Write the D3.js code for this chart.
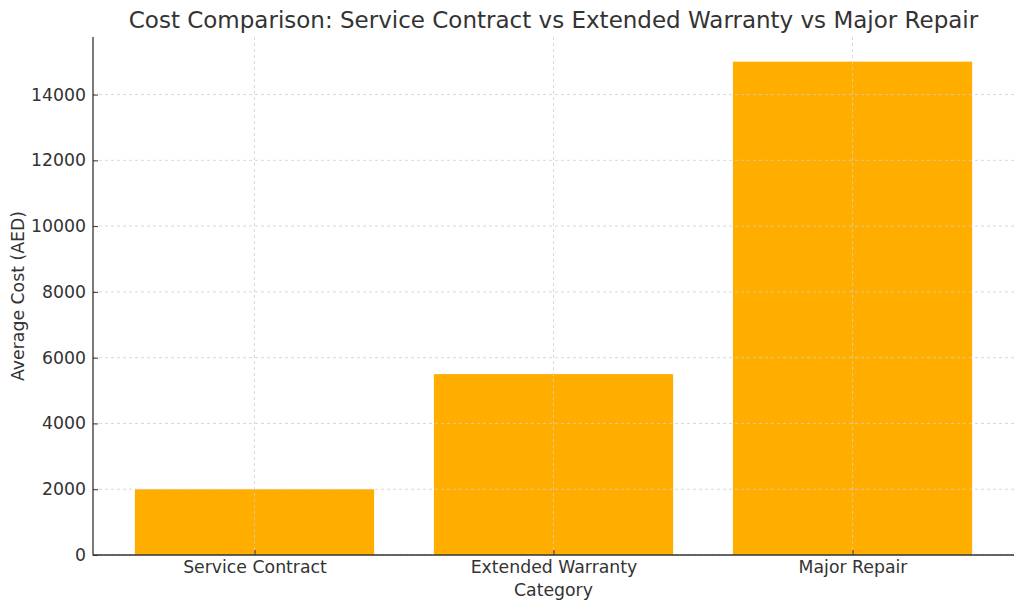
<!DOCTYPE html>
<html><head><meta charset="utf-8">
<script src="https://cdn.jsdelivr.net/npm/d3@7"></script>
<style>body{margin:0;background:#fff}svg{display:block}text{font-family:"DejaVu Sans",sans-serif;fill:#333}</style>
</head><body><svg id="c" width="1024" height="610"></svg>
<script>
const categories = ["Service Contract", "Extended Warranty", "Major Repair"];
const values = [2000, 5500, 15000];
const yTicks = [0, 2000, 4000, 6000, 8000, 10000, 12000, 14000];

const svg = d3.select("#c");
const L = 93, R = 1014, T = 37, B = 555;
const x = d3.scaleLinear().domain([-0.54, categories.length - 1 + 0.54]).range([L, R]);
const y = d3.scaleLinear().domain([0, 15750]).range([B, T]);

svg.selectAll("rect.bar").data(values).enter().append("rect")
  .attr("x", (d, i) => x(i - 0.4)).attr("width", (d, i) => x(i + 0.4) - x(i - 0.4))
  .attr("y", d => y(d)).attr("height", d => B - y(d)).attr("fill", "#ffae00");

const g = svg.append("g");
g.selectAll("line.hg").data(yTicks).enter().append("line")
  .attr("x1", L).attr("x2", R).attr("y1", d => y(d)).attr("y2", d => y(d))
  .attr("stroke", "#cfcfcf").attr("stroke-width", 0.8).attr("stroke-dasharray", "3,3");
g.selectAll("line.vg").data(categories).enter().append("line")
  .attr("x1", (d, i) => x(i)).attr("x2", (d, i) => x(i)).attr("y1", T).attr("y2", B)
  .attr("stroke", "#cfcfcf").attr("stroke-width", 0.8).attr("stroke-dasharray", "3,3");

const fs = "17.3px";
// y axis
const ya = svg.append("g").attr("transform", `translate(${L},0)`)
  .call(d3.axisLeft(y).tickValues(yTicks).tickSize(-5).tickPadding(7).tickFormat(d3.format("d")));
ya.select(".domain").remove();
ya.selectAll(".tick line").attr("stroke", "#333").attr("stroke-width", 1);
ya.selectAll("text").style("font-size", fs).attr("fill", "#333");

// x axis
const xa = svg.append("g").attr("transform", `translate(0,${B})`)
  .call(d3.axisBottom(x).tickValues(d3.range(categories.length)).tickSize(-5).tickPadding(6).tickFormat(i => categories[i]));
xa.select(".domain").remove();
xa.selectAll(".tick line").attr("stroke", "#333").attr("stroke-width", 1);
xa.selectAll("text").style("font-size", fs).attr("fill", "#333");

svg.append("line").attr("x1", L).attr("x2", L).attr("y1", T).attr("y2", B + 0.5).attr("stroke", "#333").attr("stroke-width", 1.3);
svg.append("line").attr("x1", L).attr("x2", R).attr("y1", B).attr("y2", B).attr("stroke", "#333").attr("stroke-width", 1.3);

svg.append("text").attr("x", (L + R) / 2).attr("y", 28).attr("text-anchor", "middle")
  .style("font-size", "23px").text("Cost Comparison: Service Contract vs Extended Warranty vs Major Repair");
svg.append("text").attr("x", (L + R) / 2).attr("y", 596).attr("text-anchor", "middle")
  .style("font-size", fs).text("Category");
svg.append("text").attr("transform", `translate(24,${(T + B) / 2}) rotate(-90)`).attr("text-anchor", "middle")
  .style("font-size", fs).text("Average Cost (AED)");
</script></body></html>
